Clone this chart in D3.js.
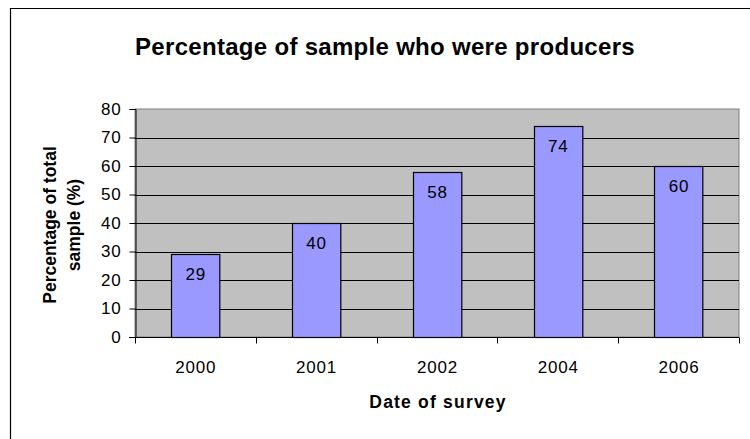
<!DOCTYPE html>
<html>
<head>
<meta charset="utf-8">
<script src="https://cdn.jsdelivr.net/npm/d3@7"></script>
<style>
  html, body { margin: 0; padding: 0; background: #fff; }
  svg { display: block; font-family: "Liberation Sans", Arial, sans-serif; }
</style>
</head>
<body>
<svg id="chart" width="750" height="439"></svg>
<script>
// Survey years and share of respondents who were producers (%)
const years = ["2000", "2001", "2002", "2004", "2006"];
const producerShare = [29, 40, 58, 74, 60];
const yTicks = [0, 10, 20, 30, 40, 50, 60, 70, 80];

const svg = d3.select("#chart");
const plot = { left: 135, top: 109, right: 739, bottom: 337 };
const FONT = "Liberation Sans, Arial, sans-serif";

// Outer chart frame (top and left edges inside the window)
svg.append("path")
  .attr("d", "M10.5,439 L10.5,8.5 L750,8.5")
  .attr("fill", "none").attr("stroke", "#000").attr("stroke-width", 1.2);

const x = d3.scaleBand().domain(years).range([plot.left, plot.right]).paddingInner(0.6).paddingOuter(0.3);
const xCat = d3.scaleBand().domain(years).range([plot.left, plot.right]);
const y = d3.scaleLinear().domain([0, 80]).range([plot.bottom, plot.top]);

// Plot background
svg.append("rect")
  .attr("x", plot.left).attr("y", plot.top)
  .attr("width", plot.right - plot.left).attr("height", plot.bottom - plot.top)
  .attr("fill", "#c0c0c0").attr("stroke", "#808080").attr("stroke-width", 1);

// Horizontal gridlines
svg.append("g").selectAll("line")
  .data(yTicks.filter(t => t > 0 && t < 80))
  .join("line")
  .attr("x1", plot.left).attr("x2", plot.right)
  .attr("y1", d => Math.round(y(d)) + 0.5).attr("y2", d => Math.round(y(d)) + 0.5)
  .attr("stroke", "#000").attr("stroke-width", 1);

// Bars
svg.append("g").selectAll("rect")
  .data(producerShare)
  .join("rect")
  .attr("x", (d, i) => Math.round(x(years[i])) + 0.5)
  .attr("y", d => Math.round(y(d)) + 0.5)
  .attr("width", x.bandwidth())
  .attr("height", d => Math.round(y(0)) - Math.round(y(d)))
  .attr("fill", "#9999ff").attr("stroke", "#000").attr("stroke-width", 1.2);

// Value labels inside bar tops
svg.append("g").selectAll("text")
  .data(producerShare)
  .join("text")
  .attr("x", (d, i) => x(years[i]) + x.bandwidth() / 2 + 0.4)
  .attr("y", d => y(d) + 26)
  .attr("text-anchor", "middle")
  .attr("font-size", 17).attr("letter-spacing", 0.8).attr("fill", "#000")
  .text(d => d);

// Y axis
const yAxis = svg.append("g")
  .attr("transform", `translate(${plot.left + 0.5},0)`)
  .call(d3.axisLeft(y).tickValues(yTicks).tickSize(6).tickPadding(8));
yAxis.select(".domain").attr("stroke", "#000");
yAxis.selectAll(".tick line").attr("stroke", "#000");
yAxis.selectAll(".tick text")
  .attr("font-size", 17).attr("letter-spacing", 0.8)
  .attr("font-family", FONT).attr("fill", "#000");

// X axis with ticks between categories
const xAxisG = svg.append("g").attr("transform", `translate(0,${Math.round(plot.bottom) + 0.5})`);
xAxisG.append("line")
  .attr("x1", plot.left - 6).attr("x2", plot.right)
  .attr("stroke", "#000");
xAxisG.selectAll("line.sep")
  .data(years.concat(["end"]))
  .join("line").attr("class", "sep")
  .attr("x1", (d, i) => Math.round(plot.left + i * xCat.step()) + 0.5)
  .attr("x2", (d, i) => Math.round(plot.left + i * xCat.step()) + 0.5)
  .attr("y1", 0).attr("y2", 6)
  .attr("stroke", "#000");
xAxisG.selectAll("text")
  .data(years)
  .join("text")
  .attr("x", d => xCat(d) + xCat.bandwidth() / 2 + 0.4)
  .attr("y", 35)
  .attr("text-anchor", "middle")
  .attr("font-size", 17).attr("letter-spacing", 0.8).attr("fill", "#000")
  .text(d => d);

// Titles
svg.append("text")
  .attr("x", 385).attr("y", 55)
  .attr("text-anchor", "middle")
  .attr("font-size", 24).attr("font-weight", "bold")
  .attr("letter-spacing", 0.3)
  .text("Percentage of sample who were producers");

svg.append("text")
  .attr("x", 438).attr("y", 408)
  .attr("text-anchor", "middle")
  .attr("font-size", 17.5).attr("font-weight", "bold")
  .attr("letter-spacing", 1.2)
  .text("Date of survey");

const yTitle = svg.append("text")
  .attr("transform", "translate(0,225) rotate(-90)")
  .attr("text-anchor", "middle")
  .attr("font-size", 17.5).attr("font-weight", "bold");
yTitle.append("tspan").attr("x", 0).attr("y", 55.5).text("Percentage of total");
yTitle.append("tspan").attr("x", 0).attr("y", 80).text("sample (%)");
</script>
</body>
</html>
